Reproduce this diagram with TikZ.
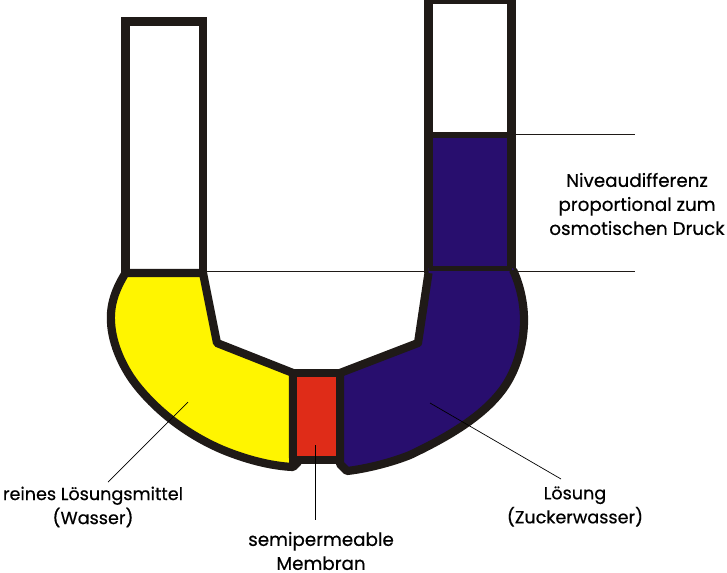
\documentclass[tikz,border=0pt]{standalone}
\usepackage{fontspec}
\setmainfont{Poppins}[FakeBold=0.5]
\definecolor{wallc}{HTML}{1F1A17}
\definecolor{solvent}{HTML}{FFF500}
\definecolor{solution}{HTML}{280E6E}
\definecolor{membrane}{HTML}{DF2C18}
\tikzset{
  wall/.style={draw=wallc,line width=8.2pt,line join=round},
  tube/.style={draw=wallc,line width=8.8pt,line join=miter},
  thin line/.style={draw=wallc,line width=1pt},
  hair line/.style={draw=black,line width=0.7pt},
  label text/.style={font=\fontsize{18.3}{24}\selectfont,text=black,align=center,inner sep=0pt},
  label narrow/.style={font=\fontsize{17.6}{24}\selectfont,text=black,align=center,inner sep=0pt}
}
\begin{document}
\begin{tikzpicture}[x=1pt,y=-1pt]
\useasboundingbox (0,0) rectangle (727,572);
\fill[white] (0,0) rectangle (727,572);
% free ends of the leader lines
\coordinate (levelA) at (204,271);
\coordinate (levelAend) at (635,271);
\coordinate (levelB) at (512,135);
\coordinate (levelBend) at (635,135);
\coordinate (solventIn) at (188,402);
\coordinate (solutionIn) at (430,403);
\coordinate (memIn) at (315.5,445);
% labels
\node[label text] (lblNiveau) at (637,204) {Niveaudifferenz\\proportional zum\\osmotischen Druck};
\node[label narrow] (lblSolvent) at (93,507) {reines Lösungsmittel\\(Wasser)};
\node[label text] (lblMembran) at (321,551) {semipermeable\\Membran};
\node[label narrow] (lblSolution) at (575,506.5) {Lösung\\(Zuckerwasser)};
\coordinate (solventOut) at (108,482);
\coordinate (solutionOut) at (561,479);
\coordinate (memOut) at (315.5,520);
% level lines behind the vessel
\draw[thin line] (levelA) -- (levelAend);
\draw[thin line] (levelB) -- (levelBend);
% left tube
\draw[tube] (125.5,273) -- (125.5,21.5) -- (203,21.5) -- (203,273);
% right tube
\fill[solution] (428.5,135) rectangle (511.8,268);
\draw[tube] (428.5,273) -- (428.5,0) -- (511.8,0) -- (511.8,273);
\draw[wallc,line width=5.5pt] (428.5,135) -- (511.8,135);
% yellow chamber
\draw[wall,fill=solvent] (125.5,273) .. controls (115,290) and (110,305) .. (111,322)
  .. controls (112,345) and (124,370) .. (138,387)
  .. controls (160,414) and (190,436) .. (223,450)
  .. controls (245,459) and (270,466) .. (293,467)
  -- (298,462) -- (293,458) -- (293,373) -- (217,343) -- (203,273) -- cycle;
% blue chamber
\fill[solution] (513,268) .. controls (520,285) and (524,303) .. (524,320)
  .. controls (524,342) and (518,365) .. (507,383)
  .. controls (488,414) and (448,437) .. (410,455)
  .. controls (390,463) and (365,469) .. (347,471)
  -- (340,464) -- (340,373) -- (418,343) -- (428.5,273) -- (428.5,268) -- cycle;
\draw[wall] (513,270) .. controls (520,285) and (524,303) .. (524,320)
  .. controls (524,342) and (518,365) .. (507,383)
  .. controls (488,414) and (448,437) .. (410,455)
  .. controls (390,463) and (365,469) .. (347,471)
  -- (340,464) -- (340,373) -- (418,343) -- (428.5,273);
\draw[wallc,line width=5pt] (428.5,268.2) -- (511.8,268.2);
% membrane
\draw[wall,line join=miter,fill=membrane] (293,373) rectangle (340,460);
% leaders
\draw[hair line] (solventIn) -- (solventOut);
\draw[hair line] (solutionIn) -- (solutionOut);
\draw[hair line] (memIn) -- (memOut);
\end{tikzpicture}
\end{document}
